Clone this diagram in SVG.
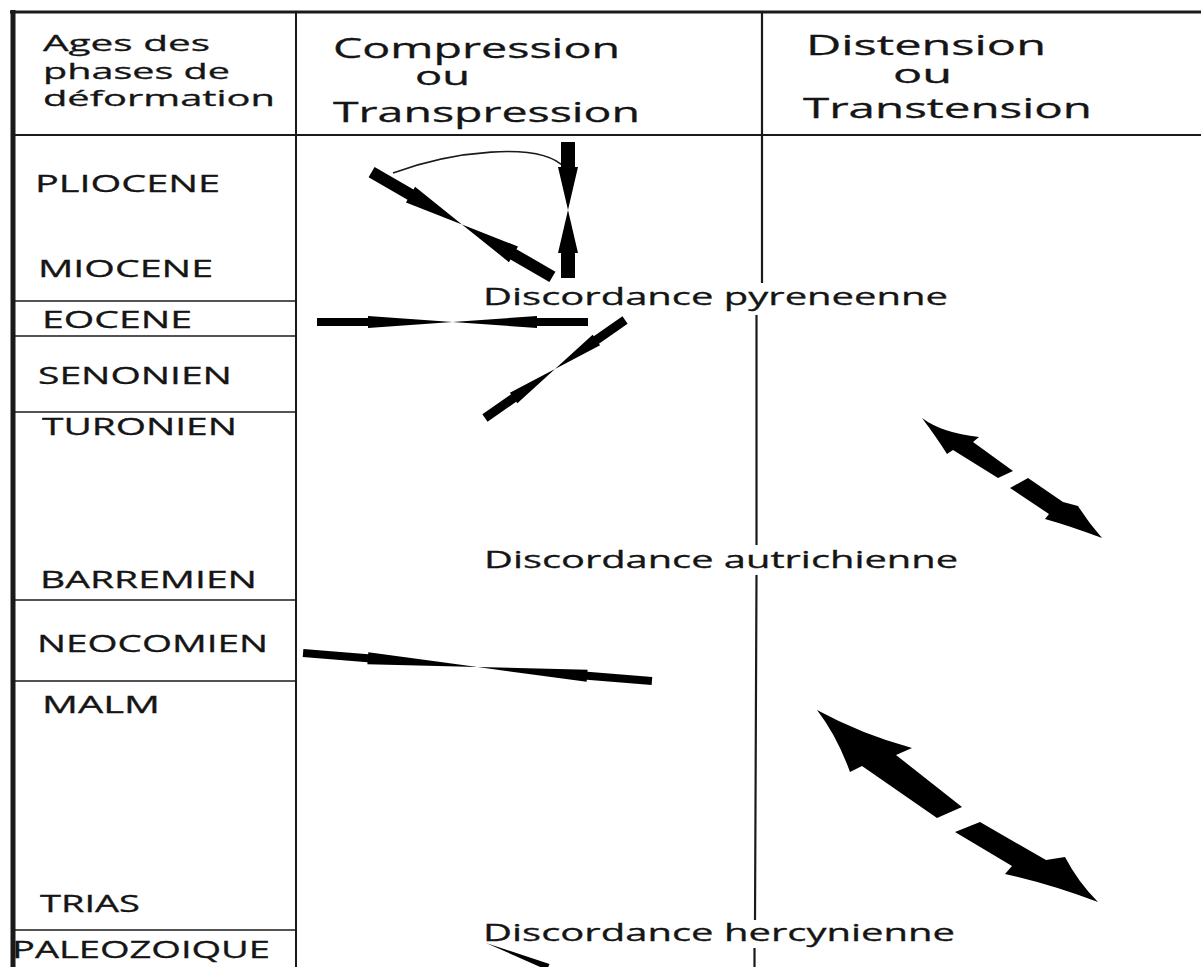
<svg xmlns="http://www.w3.org/2000/svg" width="1201" height="967" viewBox="0 0 1201 967">
<style>
.t{font-family:"Open Sans","Noto Sans","DejaVu Sans",sans-serif;fill:#151515;stroke:#151515;stroke-width:0.3;}
.h{font-size:28px;}
.o{font-size:25px;}
.a{font-size:21px;}
.l{font-size:23px;}
.d{font-size:24px;}
.ln{stroke:#1a1a1a;fill:none;}
.v{fill:#1a1a1a;}
.ar{fill:#000;stroke:none;}
</style>
<rect x="0" y="0" width="1201" height="967" fill="#fff"/>
<g id="table">
<line class="ln" x1="10" y1="12" x2="1201" y2="12" stroke-width="3"/>
<rect class="v" x="10.5" y="10" width="5" height="957"/>
<rect class="v" x="295" y="12" width="2" height="955"/>
<line class="ln" x1="13" y1="135" x2="1201" y2="135" stroke-width="2"/>
<path class="ln" stroke-width="2.2" d="M762,12 L762,283 M756.5,315 L756.5,545 M756.5,575 L755,920 M754.5,948 L754.5,967"/>
<g stroke-width="1.5">
<line class="ln" x1="13" y1="301" x2="296" y2="301"/>
<line class="ln" x1="13" y1="336" x2="296" y2="336"/>
<line class="ln" x1="13" y1="412" x2="296" y2="412"/>
<line class="ln" x1="13" y1="600" x2="296" y2="600"/>
<line class="ln" x1="13" y1="681" x2="296" y2="681"/>
<line class="ln" x1="13" y1="930" x2="296" y2="930"/>
</g>
</g>
<g id="header">
<text class="t a" x="43" y="51" textLength="167" lengthAdjust="spacingAndGlyphs">Ages des</text>
<text class="t a" x="43" y="79" textLength="187" lengthAdjust="spacingAndGlyphs">phases de</text>
<text class="t a" x="43" y="106" textLength="232" lengthAdjust="spacingAndGlyphs">déformation</text>
<text class="t h" x="333" y="58" textLength="287" lengthAdjust="spacingAndGlyphs">Compression</text>
<text class="t o" x="415" y="85" textLength="55" lengthAdjust="spacingAndGlyphs">ou</text>
<text class="t h" x="333" y="122" textLength="307" lengthAdjust="spacingAndGlyphs">Transpression</text>
<text class="t h" x="806" y="55" textLength="240" lengthAdjust="spacingAndGlyphs">Distension</text>
<text class="t o" x="893" y="83" textLength="59" lengthAdjust="spacingAndGlyphs">ou</text>
<text class="t h" x="803" y="118" textLength="289" lengthAdjust="spacingAndGlyphs">Transtension</text>
</g>
<g id="ages">
<text class="t l" x="35" y="192" textLength="185" lengthAdjust="spacingAndGlyphs">PLIOCENE</text>
<text class="t l" x="38" y="277" textLength="175" lengthAdjust="spacingAndGlyphs">MIOCENE</text>
<text class="t l" x="42" y="328" textLength="150" lengthAdjust="spacingAndGlyphs">EOCENE</text>
<text class="t l" x="38" y="384" textLength="194" lengthAdjust="spacingAndGlyphs">SENONIEN</text>
<text class="t l" x="42" y="435" textLength="195" lengthAdjust="spacingAndGlyphs">TURONIEN</text>
<text class="t l" x="40" y="588" textLength="217" lengthAdjust="spacingAndGlyphs">BARREMIEN</text>
<text class="t l" x="37" y="652" textLength="231" lengthAdjust="spacingAndGlyphs">NEOCOMIEN</text>
<text class="t l" x="42" y="713" textLength="118" lengthAdjust="spacingAndGlyphs">MALM</text>
<text class="t l" x="40" y="912" textLength="100" lengthAdjust="spacingAndGlyphs">TRIAS</text>
<text class="t l" x="12" y="958" textLength="258" lengthAdjust="spacingAndGlyphs">PALEOZOIQUE</text>
</g>
<g id="discordances">
<text class="t d" x="483" y="305" textLength="465" lengthAdjust="spacingAndGlyphs">Discordance pyreneenne</text>
<text class="t d" x="484" y="568" textLength="474" lengthAdjust="spacingAndGlyphs">Discordance autrichienne</text>
<text class="t d" x="483" y="941" textLength="472" lengthAdjust="spacingAndGlyphs">Discordance hercynienne</text>
</g>
<g id="connectors">
<path class="ln" d="M393,173 C450,152 540,140 565,168" stroke-width="1.6"/>
<g transform="translate(568,210) rotate(90)">
<polygon class="ar" points="-68,-7 -43,-7 -43,-10 0,0 -43,10 -43,7 -68,7"/>
<polygon class="ar" points="68,-7 43,-7 43,-10 0,0 43,10 43,7 68,7"/>
</g>
<g transform="translate(462,224.5) rotate(30.1)">
<polygon class="ar" points="-104.5,-6 -59.5,-6 -59.5,-9 0,0 -59.5,9 -59.5,6 -104.5,6"/>
<polygon class="ar" points="104.5,-6 59.5,-6 59.5,-9 0,0 59.5,9 59.5,6 104.5,6"/>
</g>
<g transform="translate(452.5,322)">
<polygon class="ar" points="-135.5,-4 -84.5,-4 -84.5,-6 0,0 -84.5,6 -84.5,4 -135.5,4"/>
<polygon class="ar" points="135.5,-4 84.5,-4 84.5,-6 0,0 84.5,6 84.5,4 135.5,4"/>
</g>
<g transform="translate(555,369) rotate(-35)">
<polygon class="ar" points="-85.5,-4.5 -50.5,-4.5 -50.5,-6.5 0,0 -50.5,6.5 -50.5,4.5 -85.5,4.5"/>
<polygon class="ar" points="85.5,-4.5 50.5,-4.5 50.5,-6.5 0,0 50.5,6.5 50.5,4.5 85.5,4.5"/>
</g>
<g transform="translate(477.5,667) rotate(4.59)">
<polygon class="ar" points="-175,-4 -110,-4 -110,-6 0,0 -110,6 -110,4 -175,4"/>
<polygon class="ar" points="175,-4 110,-4 110,-6 0,0 110,6 110,4 175,4"/>
</g>
<polygon class="ar" points="486,943 549.5,964 547,970"/>
<path class="ar" d="M922,418 Q942,433 979,437 L973,442 L1013,471 L998,478 L953,450 L947,454 Q937,438 922,418 Z"/>
<path class="ar" d="M1010,488 L1028,478 L1063,502 L1078,506 Q1088,522 1102,538 Q1070,526 1045,519 L1049,514 Z"/>
<path class="ar" d="M817,710 Q861,734 912,748 L896,755 L962,807 L937,818 L862,766 L850,772 Q837,736 817,710 Z"/>
<path class="ar" d="M955,832 L980,822 L1046,860 L1065,857 Q1078,882 1098,902 Q1050,884 1005,874 L1012,866 Z"/>
</g>
</svg>
